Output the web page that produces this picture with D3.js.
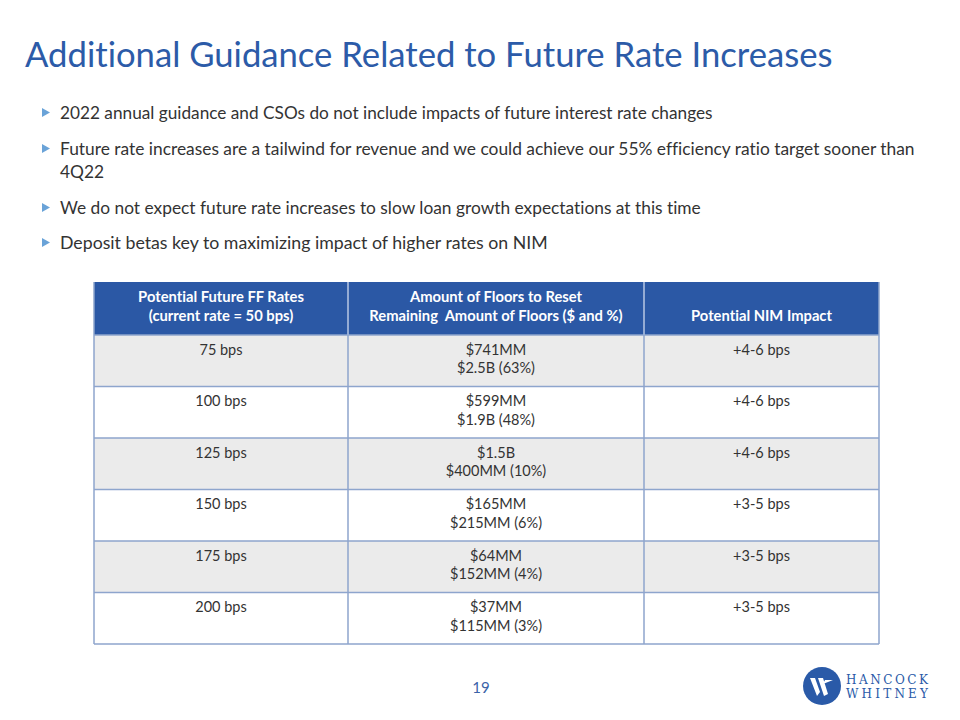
<!DOCTYPE html>
<html><head><meta charset="utf-8">
<script src="https://cdn.jsdelivr.net/npm/d3@7"></script>
<style>body{margin:0;background:#fff}svg{display:block}text{font-variant-ligatures:none;font-feature-settings:"liga" 0,"clig" 0}</style>
</head><body>
<script>
const title = "Additional Guidance Related to Future Rate Increases";
const bullets = [
  ["2022 annual guidance and CSOs do not include impacts of future interest rate changes"],
  ["Future rate increases are a tailwind for revenue and we could achieve our 55% efficiency ratio target sooner than", "4Q22"],
  ["We do not expect future rate increases to slow loan growth expectations at this time"],
  ["Deposit betas key to maximizing impact of higher rates on NIM"]
];
const headers = [
  ["Potential Future FF Rates", "(current rate = 50 bps)"],
  ["Amount of Floors to Reset", "Remaining  Amount of Floors ($ and %)"],
  ["Potential NIM Impact"]
];
const rates = ["75 bps","100 bps","125 bps","150 bps","175 bps","200 bps"];
const floorsReset = ["$741MM","$599MM","$1.5B","$165MM","$64MM","$37MM"];
const floorsRemaining = ["$2.5B (63%)","$1.9B (48%)","$400MM (10%)","$215MM (6%)","$152MM (4%)","$115MM (3%)"];
const nimImpact = ["+4-6 bps","+4-6 bps","+4-6 bps","+3-5 bps","+3-5 bps","+3-5 bps"];
const pageNumber = "19";

const W = 960, H = 720;
const FONT = "Lato, 'Open Sans', sans-serif";
const svg = d3.select("body").append("svg").attr("width", W).attr("height", H);

function fit(sel, targetW) {
  const n = sel.node();
  const fs = parseFloat(sel.attr("font-size"));
  const w = n.getComputedTextLength();
  sel.attr("font-size", fs * targetW / w);
  return fs * targetW / w;
}
function measureSize(str, fs, weight, targetW) {
  const tmp = svg.append("text").attr("font-family", FONT).attr("font-size", fs)
    .attr("font-weight", weight).style("white-space", "pre").text(str);
  const s = fit(tmp, targetW);
  tmp.remove();
  return s;
}

// Title
const t = svg.append("text").attr("x", 25).attr("y", 67).attr("font-family", FONT)
  .attr("font-size", 34).attr("fill", "#2c5ba8").text(title);
fit(t, 808);

// Bullets
const bulletY = [[119],[155,178],[214],[249]];
const bulletEnd = [713, 915, 701, 548];
bullets.forEach((lines, i) => {
  const by = bulletY[i][0];
  svg.append("path")
    .attr("d", d3.line()([[42, by-11],[50, by-6.5],[42, by-2]]) + "Z")
    .attr("fill", "#6aa3d8");
  const tx = svg.append("text").attr("x", 60).attr("y", by).attr("font-family", FONT)
    .attr("font-size", 16).attr("fill", "#333").text(lines[0]);
  fit(tx, bulletEnd[i] - 60);
  if (lines[1]) {
    svg.append("text").attr("x", 60).attr("y", bulletY[i][1]).attr("font-family", FONT)
      .attr("font-size", tx.attr("font-size")).attr("fill", "#333").text(lines[1]);
  }
});

// Table
const colEdges = [94, 348, 644, 879];
const colX = d3.scaleOrdinal().domain([0,1,2]).range([0,1,2].map(i => colEdges[i]));
const colW = i => colEdges[i+1] - colEdges[i];
const headTop = 282, headBot = 335, tableBot = 644;
const y = d3.scaleBand().domain(rates).range([headBot, tableBot]);
const border = "#8ea5cd";

svg.append("rect").attr("x", colEdges[0]).attr("y", headTop).attr("width", colEdges[3]-colEdges[0])
  .attr("height", headBot-headTop).attr("fill", "#2b58a5");

rates.forEach((r, i) => {
  svg.append("rect").attr("x", colEdges[0]).attr("y", y(r)).attr("width", colEdges[3]-colEdges[0])
    .attr("height", y.bandwidth()).attr("fill", i % 2 === 0 ? "#ebebeb" : "#ffffff");
});

const g = svg.append("g").attr("stroke", border).attr("stroke-width", 1.5).attr("fill", "none");
rates.forEach(r => {
  g.append("line").attr("x1", colEdges[0]).attr("x2", colEdges[3]).attr("y1", y(r)).attr("y2", y(r));
});
g.append("line").attr("x1", colEdges[0]).attr("x2", colEdges[3]).attr("y1", tableBot).attr("y2", tableBot);
colEdges.forEach(cx => {
  g.append("line").attr("x1", cx).attr("x2", cx).attr("y1", headTop).attr("y2", tableBot);
});
[1,2].forEach(i => {
  svg.append("line").attr("x1", colEdges[i]).attr("x2", colEdges[i]).attr("y1", headTop).attr("y2", headBot)
    .attr("stroke", "#9fb4da").attr("stroke-width", 1.5);
});

// header text
const headFS = measureSize("Potential Future FF Rates", 13, "bold", 166);
headers.forEach((lines, i) => {
  const cx = colX(i) + colW(i)/2;
  const ys = lines.length === 2 ? [302, 321] : [321];
  lines.forEach((l, j) => {
    svg.append("text").attr("x", cx).attr("y", ys[j]).attr("text-anchor", "middle")
      .attr("font-family", FONT).attr("font-weight", "bold").attr("font-size", headFS)
      .attr("fill", "#fff").style("white-space", "pre").text(l);
  });
});

// cells
const cellFS = measureSize("$2.5B (63%)", 13.5, "normal", 78);
const cols = [[rates], [floorsReset, floorsRemaining], [nimImpact]];
rates.forEach((r, ri) => {
  cols.forEach((arrs, ci) => {
    const cx = colX(ci) + colW(ci)/2;
    arrs.forEach((arr, j) => {
      svg.append("text").attr("x", cx).attr("y", y(r) + 19.5 + j*18.5).attr("text-anchor", "middle")
        .attr("font-family", FONT).attr("font-size", cellFS).attr("fill", "#333").text(arr[ri]);
    });
  });
});

// page number
svg.append("text").attr("x", 481).attr("y", 693).attr("text-anchor", "middle")
  .attr("font-family", FONT).attr("font-size", 15).attr("fill", "#3a63a8").text(pageNumber);

// logo
const logo = svg.append("g").attr("transform", "translate(822,686)");
logo.append("circle").attr("r", 19).attr("fill", "#2a5aa8");
logo.append("path").attr("fill", "#fff")
  .attr("d", "M-12,-8 L-7,-8 L-2,6 L-5,10 Z M-4,-8 L1,-8 L6,8 L2,10 Z M1,-2 L3,-6 L11,-6 Z");
const SERIF = "'DejaVu Serif', 'Liberation Serif', serif";
["HANCOCK", "WHITNEY"].forEach((word, i) => {
  const lt = logo.append("text").attr("x", 24).attr("y", i === 0 ? -2 : 12).attr("font-family", SERIF)
    .attr("font-size", 12).attr("fill", "#2a5aa8").attr("letter-spacing", 0).text(word);
  const w = lt.node().getComputedTextLength();
  const ls = (82 - w) / (word.length - 1);
  lt.attr("letter-spacing", ls);
});
</script>
</body></html>
